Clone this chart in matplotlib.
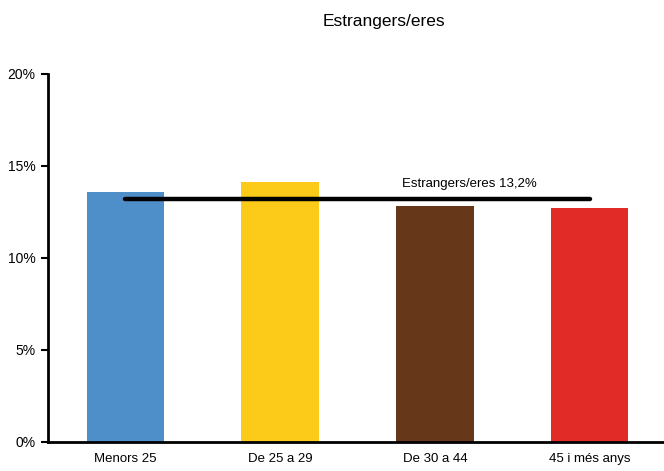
import matplotlib.pyplot as plt
from matplotlib.ticker import FuncFormatter

categories = ['Menors 25', 'De 25 a 29', 'De 30 a 44', '45 i més anys']
values = [13.6, 14.1, 12.8, 12.7]
mitjana = 13.2
colors = ['#4F8FC9', '#FCCB1A', '#663718', '#E02B27']

plt.rcParams['font.family'] = ['Liberation Sans', 'DejaVu Sans']

fig = plt.figure(figsize=(6.64, 4.71), dpi=100)
ax = fig.add_axes([0.072, 0.062, 0.928, 0.781])

x = range(len(categories))
ax.bar(x, values, width=0.5, color=colors)

# linia de mitjana
ax.plot([0, len(categories) - 1], [mitjana, mitjana], color='black', lw=3.2,
        solid_capstyle='round')
ax.text(2.22, 14.0, 'Estrangers/eres ' + ('%.1f' % mitjana).replace('.', ',') + '%',
        ha='center', va='center', fontsize=9.5)

ax.set_xlim(-0.5, 3.48)
ax.set_ylim(0, 20)
ax.set_yticks([0, 5, 10, 15, 20])
ax.yaxis.set_major_formatter(FuncFormatter(lambda v, p: '%d%%' % v))
ax.set_xticks(list(x))
ax.set_xticklabels(categories)
ax.tick_params(axis='x', length=0, pad=8, labelsize=9.5)
ax.tick_params(axis='y', length=5, width=1.5, direction='out', labelsize=10, pad=4)

for s in ['top', 'right']:
    ax.spines[s].set_visible(False)
for s in ['left', 'bottom']:
    ax.spines[s].set_linewidth(2)

fig.text(0.578, 0.955, 'Estrangers/eres', ha='center', va='center', fontsize=12.5)

fig.savefig('out.png', dpi=100)
